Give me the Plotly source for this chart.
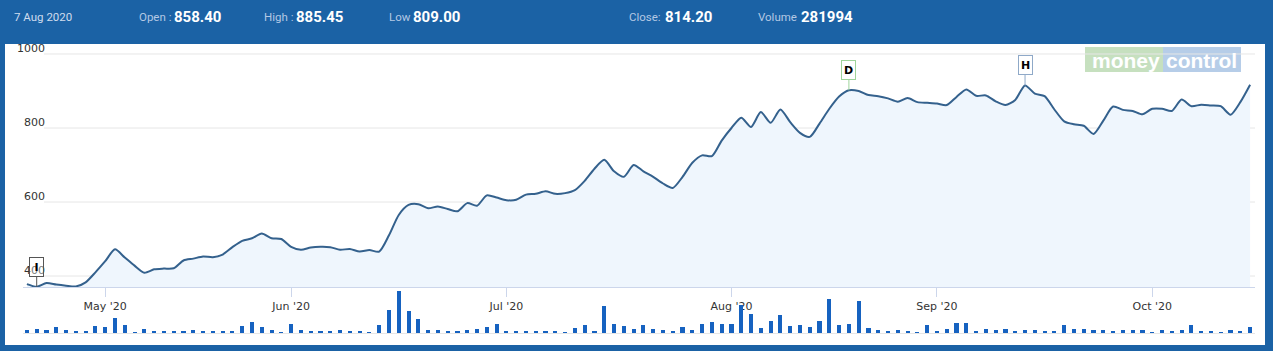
import pandas as pd
import plotly.graph_objects as go

# ---------------- data ----------------
holidays = ["2020-05-01", "2020-05-25", "2020-10-02"]
dates = [d.strftime("%Y-%m-%d") for d in pd.bdate_range("2020-04-21", "2020-10-16")
         if d.strftime("%Y-%m-%d") not in holidays]

close = [378, 371, 381, 377, 374, 372, 383, 410, 440, 472,
         450, 428, 409, 418, 420, 421, 442, 447, 453, 451,
         458, 478, 495, 502, 515, 502, 500, 479, 471, 477,
         479, 478, 471, 473, 466, 470, 466, 510, 565, 592,
         594, 583, 588, 581, 575, 597, 590, 618, 612, 605,
         606, 620, 622, 629, 622, 624, 632, 657, 690, 714,
         683, 668, 700, 683, 668, 650, 638, 668, 706, 726,
         724, 766, 800, 828, 803, 843, 814, 850, 816, 787,
         776, 812, 852, 885, 902, 900, 889, 886, 880, 871,
         881, 870, 868, 866, 862, 884, 904, 887, 888, 872,
         862, 876, 915, 893, 886, 850, 818, 810, 806, 784,
         820, 858, 849, 846, 837, 852, 852, 846, 877, 859,
         863, 861, 859, 836, 870, 917]

volume = [63000, 101000, 63000, 141000, 63000, 40000, 40000, 172000, 141000, 345000,
          181000, 8000, 87000, 40000, 40000, 40000, 47000, 63000, 24000, 24000,
          24000, 28000, 157000, 259000, 141000, 63000, 12000, 204000, 63000, 40000,
          40000, 40000, 63000, 24000, 24000, 7000, 181000, 533000, 980000, 510000,
          336000, 63000, 63000, 40000, 47000, 63000, 87000, 134000, 204000, 40000,
          40000, 40000, 40000, 40000, 40000, 7000, 110000, 181000, 40000, 635000,
          204000, 165000, 87000, 181000, 87000, 78000, 47000, 141000, 63000, 204000,
          251000, 212000, 212000, 651000, 439000, 118000, 281994, 416000, 165000, 181000,
          141000, 275000, 792000, 188000, 204000, 745000, 118000, 78000, 47000, 78000,
          47000, 16000, 181000, 47000, 101000, 235000, 235000, 47000, 101000, 63000,
          101000, 24000, 63000, 78000, 24000, 24000, 181000, 101000, 101000, 63000,
          63000, 47000, 63000, 78000, 63000, 5000, 78000, 47000, 78000, 181000,
          47000, 24000, 6000, 63000, 24000, 141000]

tick_dates = ["2020-05-04", "2020-06-01", "2020-07-01", "2020-08-03", "2020-09-01", "2020-10-01"]
tick_labels = ["May '20", "Jun '20", "Jul '20", "Aug '20", "Sep '20", "Oct '20"]
price_ticks = [400, 600, 800, 1000]

flags = [("2020-04-22", "I", "#555555"), ("2020-08-19", "D", "#9fd49b"), ("2020-09-14", "H", "#8fa9c8")]

header = [("7 Aug 2020", None), ("Open :", "858.40"), ("High :", "885.45"),
          ("Low", "809.00"), ("Close:", "814.20"), ("Volume", "281994")]

assert len(dates) == len(close) == len(volume)

# ---------------- layout geometry ----------------
W, H = 1273, 351
ML, MR, MT, MB = 23, 18, 46, 18
PW, PH = W - ML - MR, H - MT - MB


def px(x):
    return (x - ML) / PW


def py(y):
    return (H - MB - y) / PH


BLUE = "#1b62a5"

fig = go.Figure()
fig.add_trace(go.Scatter(
    x=dates, y=close, mode="lines", xaxis="x", yaxis="y",
    line=dict(color="#34618d", width=2, shape="spline", smoothing=0.7),
    fill="tozeroy", fillcolor="#eff6fd", hoverinfo="x+y", showlegend=False))
fig.add_trace(go.Bar(
    x=dates, y=volume, xaxis="x2", yaxis="y2", width=0.42,
    marker=dict(color="#1662c0", line=dict(width=0)), showlegend=False))

shapes = [
    # white chart panel
    dict(type="rect", xref="paper", yref="paper", x0=px(5), x1=px(1265), y0=py(345), y1=py(44),
         fillcolor="white", line=dict(width=0), layer="below"),
    # moneycontrol watermark
    dict(type="rect", xref="paper", yref="paper", x0=px(1085), x1=px(1163), y0=py(72), y1=py(47),
         fillcolor="#c6e0bf", line=dict(width=0), layer="below"),
    dict(type="rect", xref="paper", yref="paper", x0=px(1163), x1=px(1241), y0=py(72), y1=py(47),
         fillcolor="#b6cde8", line=dict(width=0), layer="below"),
]
for v in price_ticks:
    shapes.append(dict(type="line", xref="paper", yref="y", x0=px(44), x1=1, y0=v, y1=v,
                       line=dict(color="#e6e6e6", width=1), layer="below"))

annotations = []
# header
hx = [12, 137, 262, 387, 627, 756]
vx = [None, 172, 294, 411, 663, 799]
for (lab, val), lx, vxx in zip(header, hx, vx):
    annotations.append(dict(xref="paper", yref="paper", x=px(lx), y=py(16.5), xanchor="left",
                            yanchor="middle", text=lab, showarrow=False,
                            font=dict(family="Roboto", size=11.5,
                                      color="#cfdcee" if val is None else "#b3c8e4")))
    if val is not None:
        annotations.append(dict(xref="paper", yref="paper", x=px(vxx), y=py(16.5), xanchor="left",
                                yanchor="middle", text="<b>%s</b>" % val, showarrow=False,
                                font=dict(family="Roboto", size=15, color="white")))
# watermark text
annotations.append(dict(xref="paper", yref="paper", x=px(1126), y=py(60), xanchor="center",
                        yanchor="middle", text="<b>money</b>", showarrow=False,
                        font=dict(family="Liberation Sans", size=21, color="white")))
annotations.append(dict(xref="paper", yref="paper", x=px(1201.5), y=py(60), xanchor="center",
                        yanchor="middle", text="<b>control</b>", showarrow=False,
                        font=dict(family="Liberation Sans", size=21, color="white")))
# flags
for d, t, c in flags:
    i = dates.index(d)
    annotations.append(dict(xref="x", yref="y", x=d, y=close[i], text="<b>%s</b>" % t,
                            showarrow=True, arrowhead=0, arrowwidth=1, arrowcolor=c,
                            ax=0, ay=-20, standoff=0, bordercolor=c, borderwidth=1, borderpad=1,
                            bgcolor="rgba(255,255,255,0.35)", width=11, height=16,
                            xanchor="center", yanchor="middle",
                            font=dict(family="DejaVu Sans", size=11, color="black")))

axis_font = dict(family="DejaVu Sans", size=11, color="#333333")
fig.update_layout(
    width=W, height=H, margin=dict(l=ML, r=MR, t=MT, b=MB),
    paper_bgcolor=BLUE, plot_bgcolor="white", showlegend=False, bargap=0,
    xaxis=dict(type="category", anchor="y", range=[-0.4, len(dates) - 0.5],
               tickvals=tick_dates, ticktext=tick_labels, ticks="outside", ticklen=9,
               tickcolor="#ccd6eb", showline=True, linecolor="#ccd6eb", linewidth=1,
               showgrid=False, zeroline=False, tickfont=axis_font),
    xaxis2=dict(type="category", anchor="y2", matches="x", showticklabels=False, ticks="",
                showline=True, linecolor="#e6e6e6", showgrid=False, zeroline=False),
    yaxis=dict(domain=[py(287), 1], range=[370.3, 1021.6], tickvals=price_ticks, ticks="",
               showgrid=False, zeroline=False, showline=False, tickfont=axis_font,
               ticklabelposition="outside", ticklabelstandoff=-23, ticklabelshift=-6),
    yaxis2=dict(domain=[0, py(290)], range=[0, 1000000], showticklabels=False, ticks="",
                showgrid=False, zeroline=False, showline=False),
    shapes=shapes, annotations=annotations,
)

fig.write_html("out.html")
